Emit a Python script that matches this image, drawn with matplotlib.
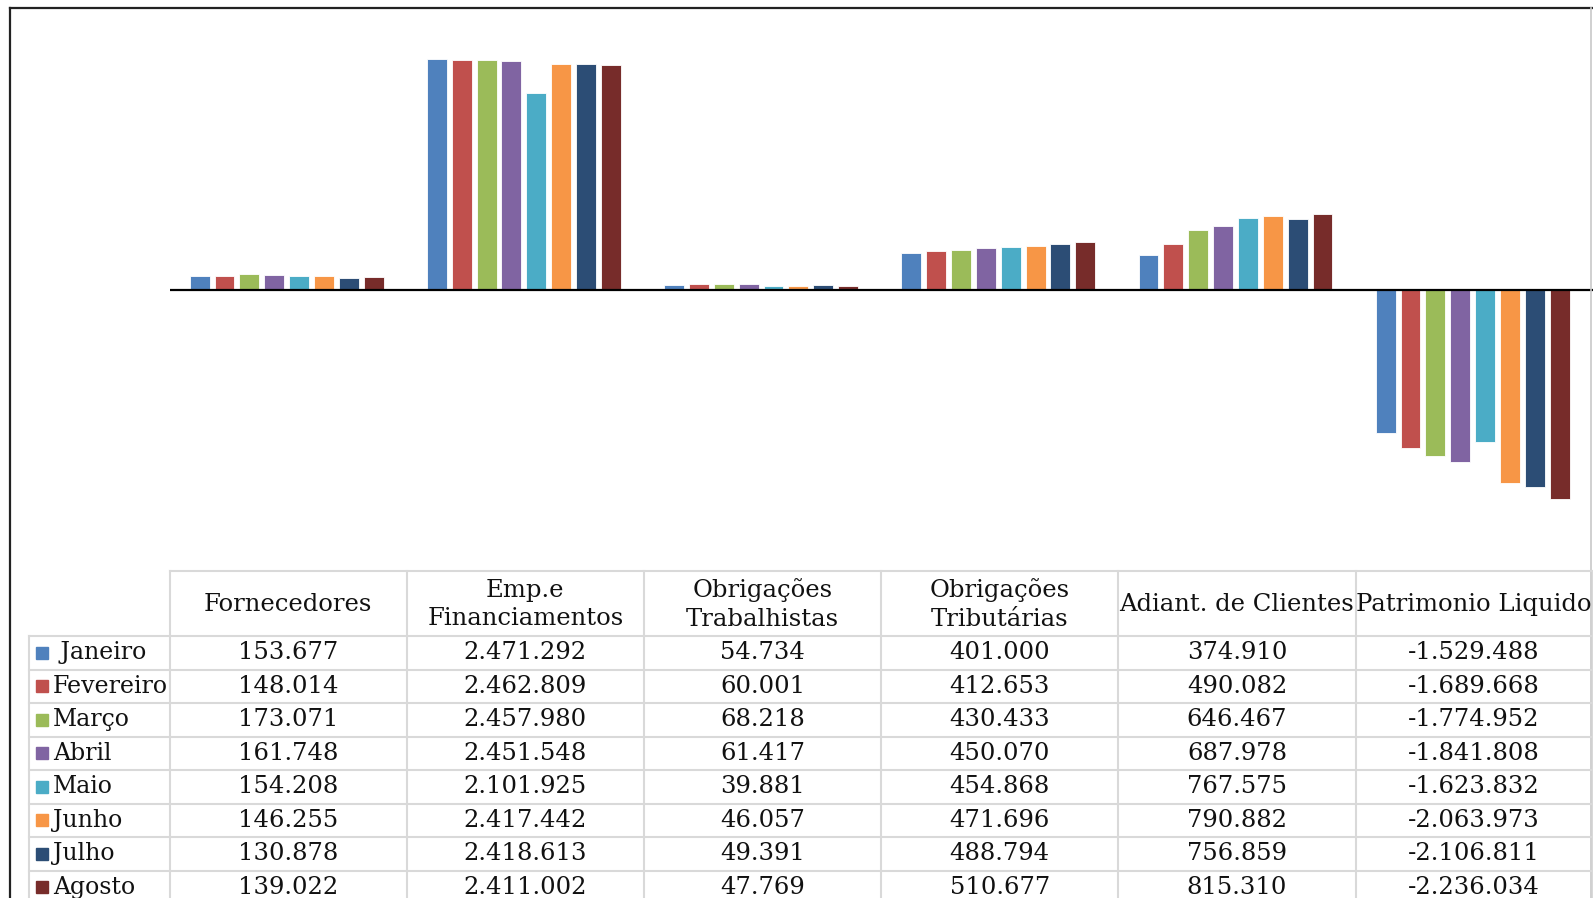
import numpy as np
import matplotlib
matplotlib.use('Agg')
import matplotlib.pyplot as plt

plt.rcParams['font.family'] = ['DejaVu Serif']

categorias = ['Fornecedores', 'Emp.e\nFinanciamentos', 'Obrigações\nTrabalhistas',
              'Obrigações\nTributárias', 'Adiant. de Clientes', 'Patrimonio Liquido']
meses = [' Janeiro', 'Fevereiro', 'Março', 'Abril', 'Maio', 'Junho', 'Julho', 'Agosto']

janeiro = [153677, 2471292, 54734, 401000, 374910, -1529488]
fevereiro = [148014, 2462809, 60001, 412653, 490082, -1689668]
marco = [173071, 2457980, 68218, 430433, 646467, -1774952]
abril = [161748, 2451548, 61417, 450070, 687978, -1841808]
maio = [154208, 2101925, 39881, 454868, 767575, -1623832]
junho = [146255, 2417442, 46057, 471696, 790882, -2063973]
julho = [130878, 2418613, 49391, 488794, 756859, -2106811]
agosto = [139022, 2411002, 47769, 510677, 815310, -2236034]
series = [janeiro, fevereiro, marco, abril, maio, junho, julho, agosto]

cores = ['#4F81BD', '#C0504D', '#9BBB59', '#8064A2', '#4BACC6', '#F79646', '#2C4D75', '#772C2A']

W, H = 1593, 898
fig = plt.figure(figsize=(W / 100, H / 100), dpi=100)

# pixel layout (from top-left)
x0 = 169.5
cw = 237.2
ax_top, ax_bot = 20, 560
ax = fig.add_axes([x0 / W, 1 - ax_bot / H, 6 * cw / W, (ax_bot - ax_top) / H])
ax.set_xlim(-0.5, 5.5)
lim = 270 / 93.5 * 1e6
ax.set_ylim(-lim, lim)
ax.axis('off')

x = np.arange(len(categorias))
pitch = 0.1048
bw = 0.084
for k, (vals, c) in enumerate(zip(series, cores)):
    off = (k - 3.5) * pitch - 0.006
    ax.bar(x + off, vals, width=bw, color=c, edgecolor='white', linewidth=0.6, zorder=2)
ax.axhline(0, color='black', lw=1.6, zorder=3)

# table + frame drawn on a pixel-space overlay
tb = fig.add_axes([0, 0, 1, 1])
tb.set_xlim(0, W)
tb.set_ylim(H, 0)
tb.axis('off')

# outer frame
tb.plot([10, 10], [8, H], color='#222222', lw=1.6)
tb.plot([10, W], [8, 8], color='#222222', lw=1.6)
tb.plot([W - 2, W - 2], [8, H], color='#c8c8c8', lw=1.2)

grid = '#d9d9d9'
hdr_top, hdr_bot = 571, 636
rh = 33.5
leg_x = 28.5
cols = [x0 + i * cw for i in range(7)]

tb.plot([x0, W], [hdr_top, hdr_top], color=grid, lw=1.5)
for cx in cols:
    tb.plot([cx, cx], [hdr_top, H], color=grid, lw=1.5)
tb.plot([leg_x, leg_x], [hdr_bot, H], color=grid, lw=1.5)
for r in range(len(meses) + 1):
    y = hdr_bot + r * rh
    tb.plot([leg_x, W], [y, y], color=grid, lw=1.5)

fs = 17.5
for i, cat in enumerate(categorias):
    tb.text(x0 + (i + 0.5) * cw, (hdr_top + hdr_bot) / 2 + 1, cat, ha='center', va='center',
            fontsize=fs, linespacing=1.3, color='#111111')

for r, (m, vals, c) in enumerate(zip(meses, series, cores)):
    yc = hdr_bot + (r + 0.5) * rh
    tb.add_patch(plt.Rectangle((36, yc - 6), 12, 12, color=c))
    tb.text(53, yc, m, ha='left', va='center', fontsize=17, color='#111111')
    for i, v in enumerate(vals):
        s = f'{v:,}'.replace(',', '.')
        tb.text(x0 + (i + 0.5) * cw, yc, s, ha='center', va='center', fontsize=fs, color='#111111')

fig.savefig('out.png', dpi=100, facecolor='white')
